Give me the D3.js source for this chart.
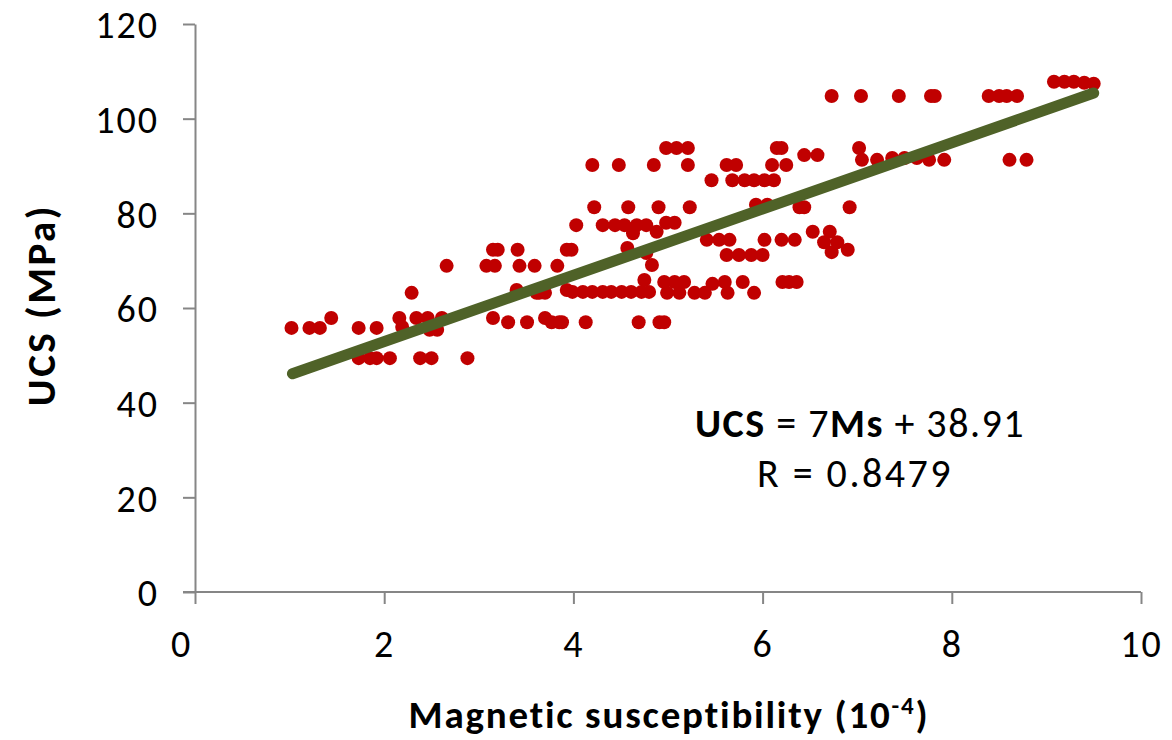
<!DOCTYPE html>
<html>
<head>
<meta charset="utf-8">
<script src="https://cdn.jsdelivr.net/npm/d3@7"></script>
<style>
  html, body { margin: 0; padding: 0; background: #fff; }
  svg { display: block; }
  text { font-family: Carlito, Lato, "Open Sans", sans-serif; }
</style>
</head>
<body>
<svg id="chart" width="1172" height="740"></svg>
<script>
// Magnetic susceptibility (10^-4)
const ms = [
  1.02,1.21,1.32,1.44,1.73,1.92,2.16,2.34,2.46,2.61,2.19,2.48,2.56,2.29,2.66,
  1.73,1.85,1.92,2.06,2.38,2.50,2.88,
  3.08,3.17,3.43,3.59,3.83,3.15,3.20,3.41,3.93,3.98,3.40,3.61,3.64,3.70,3.93,
  3.15,3.31,3.51,3.70,3.77,3.85,3.88,4.13,4.69,4.91,4.96,
  4.03,4.22,4.58,4.90,5.23,4.20,4.48,4.85,5.21,5.62,5.72,6.10,6.25,
  4.98,5.09,5.21,6.15,6.20,6.44,6.58,
  5.46,5.68,5.81,5.91,6.02,6.12,5.93,6.05,6.39,6.44,6.92,
  4.31,4.44,4.54,4.67,4.77,4.63,4.88,4.98,5.07,
  5.41,5.54,5.65,6.02,6.20,6.34,6.53,6.71,6.65,6.79,6.73,6.90,
  5.62,5.75,5.88,6.00,4.57,4.77,4.83,
  3.99,4.10,4.20,4.31,4.40,4.51,4.61,4.72,4.80,4.75,
  4.96,5.07,5.17,4.99,5.12,5.28,5.39,5.47,5.60,5.63,5.79,5.91,6.21,6.28,6.36,
  6.73,7.04,7.44,7.78,7.82,8.39,8.50,8.58,8.69,
  9.08,9.19,9.29,9.40,9.50,
  7.02,7.05,7.21,7.37,7.50,7.63,7.76,7.92,8.61,8.79
];
// UCS (MPa)
const ucs = [
  55.8,55.8,55.8,57.9,55.8,55.8,57.9,57.9,57.9,57.9,56.0,55.4,55.4,63.2,68.9,
  49.4,49.4,49.4,49.4,49.4,49.4,49.4,
  68.9,68.9,68.9,68.9,68.9,72.3,72.3,72.3,72.3,72.3,63.8,63.2,63.2,63.2,63.8,
  57.9,57.0,57.0,57.9,57.0,57.0,57.0,57.0,57.0,57.0,57.0,
  77.5,81.3,81.3,81.3,81.3,90.2,90.2,90.2,90.2,90.2,90.2,90.2,90.2,
  93.8,93.8,93.8,93.8,93.8,92.3,92.3,
  87.0,87.0,87.0,87.0,87.0,87.0,81.8,81.8,81.3,81.3,81.3,
  77.5,77.5,77.5,77.5,77.5,75.8,76.1,78.0,78.0,
  74.4,74.4,74.4,74.4,74.4,74.4,76.1,76.1,73.9,73.9,71.8,72.3,
  71.2,71.2,71.2,71.2,72.7,71.6,69.1,
  63.4,63.4,63.4,63.4,63.4,63.4,63.4,63.4,63.4,65.9,
  65.5,65.5,65.5,63.2,63.2,63.2,63.2,65.1,65.5,63.2,65.5,63.2,65.5,65.5,65.5,
  104.8,104.8,104.8,104.8,104.8,104.8,104.8,104.8,104.8,
  107.8,107.8,107.8,107.6,107.4,
  93.8,91.3,91.3,91.7,91.7,91.7,91.3,91.3,91.3,91.3
];
const xTicks = [0, 2, 4, 6, 8, 10];
const yTicks = [0, 20, 40, 60, 80, 100, 120];
const fitSlope = 7, fitIntercept = 38.91;
const fitRange = [1.03, 9.5];

const svg = d3.select("#chart");
const x = d3.scaleLinear().domain([0, 10]).range([195, 1141]);
const y = d3.scaleLinear().domain([0, 120]).range([592, 24]);

const axisColor = "#868686";

// x axis
const gx = svg.append("g").attr("transform", `translate(0,${y(0)})`)
  .call(d3.axisBottom(x).tickValues(xTicks).tickSize(12).tickPadding(26).tickSizeOuter(0));
// y axis
const gy = svg.append("g").attr("transform", `translate(${x(0)},0)`)
  .call(d3.axisLeft(y).tickValues(yTicks).tickSize(12).tickPadding(24).tickSizeOuter(0));

[gx, gy].forEach(g => {
  g.select(".domain").attr("stroke", axisColor).attr("stroke-width", 2);
  g.selectAll(".tick line").attr("stroke", axisColor).attr("stroke-width", 2);
  g.selectAll(".tick text").attr("fill", "#000").style("font-size", "38px")
    .style("letter-spacing", "2px")
    .style("font-family", "Carlito, Lato, 'Open Sans', sans-serif");
});
gy.selectAll(".tick text").attr("dy", "0.36em");
gx.selectAll(".tick text").filter(d => d === 0).attr("x", -14);

gx.select(".domain").attr("d", `M${x(0) - 12},0H${x(10)}`);

// points
svg.append("g").selectAll("circle")
  .data(ms.map((m, i) => [m, ucs[i]]))
  .join("circle")
  .attr("cx", d => x(d[0]))
  .attr("cy", d => y(d[1]))
  .attr("r", 7)
  .attr("fill", "#C00000");

// trend line
svg.append("line")
  .attr("x1", x(fitRange[0])).attr("y1", y(fitSlope * fitRange[0] + fitIntercept))
  .attr("x2", x(fitRange[1])).attr("y2", y(fitSlope * fitRange[1] + fitIntercept))
  .attr("stroke", "#4F6228").attr("stroke-width", 11).attr("stroke-linecap", "round");

// equation
const eq = svg.append("text").attr("x", 860).attr("y", 437)
  .attr("text-anchor", "middle").style("font-size", "40px")
  .style("letter-spacing", "1.5px").attr("fill", "#000");
eq.append("tspan").attr("font-weight", "bold").text("UCS");
eq.append("tspan").text(" = 7");
eq.append("tspan").attr("font-weight", "bold").text("Ms");
eq.append("tspan").text(" + 38.91");
svg.append("text").attr("x", 855).attr("y", 487).attr("text-anchor", "middle")
  .style("font-size", "40px").style("letter-spacing", "2.5px")
  .attr("fill", "#000").text("R = 0.8479");

// axis titles
const xt = svg.append("text").attr("x", 669).attr("y", 728).attr("text-anchor", "middle")
  .attr("font-weight", "bold").style("font-size", "39px")
  .style("letter-spacing", "1.8px").attr("fill", "#000");
xt.append("tspan").text("Magnetic susceptibility (10");
xt.append("tspan").attr("dy", -14).style("font-size", "25px").text("-4");
xt.append("tspan").attr("dy", 14).text(")");

svg.append("text").attr("transform", "translate(55,305) rotate(-90)")
  .attr("text-anchor", "middle").attr("font-weight", "bold")
  .style("font-size", "41px").style("letter-spacing", "2.5px")
  .attr("fill", "#000").text("UCS (MPa)");
</script>
</body>
</html>
